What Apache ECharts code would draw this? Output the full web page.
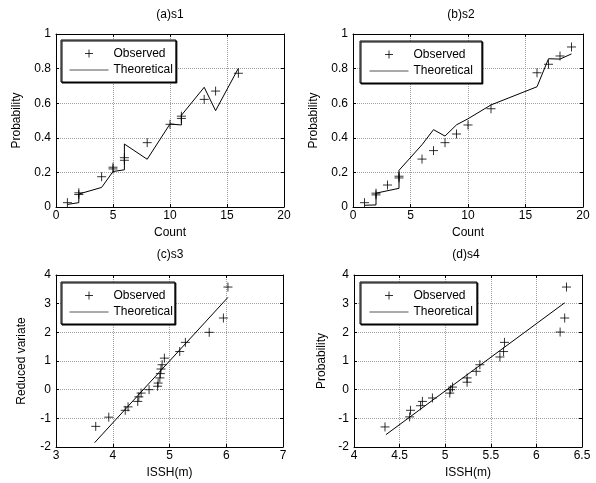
<!DOCTYPE html>
<html>
<head>
<meta charset="utf-8">
<script src="https://cdn.jsdelivr.net/npm/echarts@6/dist/echarts.min.js"></script>
<style>
  html, body { margin: 0; padding: 0; background: #fff; }
  #chart { width: 596px; height: 483px; }
</style>
</head>
<body>
<div id="chart"></div>
<script>
  // (a)s1 观测值与理论值
  const s1CountObs = [1, 2, 2, 4, 5, 5, 6, 6, 8, 10, 11, 11, 13, 14, 16]
  const s1ProbObs = [0.025, 0.072, 0.082, 0.175, 0.22, 0.23, 0.27, 0.285, 0.372, 0.478, 0.512, 0.525, 0.622, 0.67, 0.773]
  const s1CountFit = [1, 2, 2, 4, 5, 6, 6, 8, 10, 11, 11, 13, 14, 16]
  const s1ProbFit = [0.015, 0.025, 0.075, 0.113, 0.205, 0.215, 0.364, 0.276, 0.48, 0.474, 0.53, 0.692, 0.557, 0.802]

  // (b)s2
  const s2CountObs = [1, 2, 2, 3, 4, 4, 6, 7, 8, 9, 10, 12, 16, 17, 18, 19]
  const s2ProbObs = [0.025, 0.07, 0.08, 0.127, 0.168, 0.178, 0.277, 0.326, 0.372, 0.422, 0.474, 0.568, 0.776, 0.825, 0.873, 0.925]
  const s2CountFit = [1, 2, 2, 4, 4, 6, 7, 8, 9, 10, 12, 16, 17, 18, 19]
  const s2ProbFit = [0.01, 0.012, 0.08, 0.108, 0.212, 0.36, 0.447, 0.41, 0.475, 0.51, 0.59, 0.695, 0.857, 0.855, 0.885]

  // (c)s3
  const s3IsshObs = [3.70, 3.93, 4.22, 4.27, 4.44, 4.46, 4.50, 4.64, 4.79, 4.80, 4.83, 4.84, 4.85, 4.87, 4.91, 5.18, 5.28, 5.70, 5.95, 6.03]
  const s3VarObs = [-1.28, -0.96, -0.72, -0.60, -0.41, -0.25, -0.12, 0.0, 0.12, 0.23, 0.41, 0.56, 0.72, 0.87, 1.10, 1.33, 1.65, 2.0, 2.5, 3.58]
  const s3IsshFit = [3.68, 6.03]
  const s3VarFit = [-1.85, 3.22]

  // (d)s4
  const s4IsshObs = [4.34, 4.61, 4.62, 4.73, 4.75, 4.86, 5.05, 5.06, 5.08, 5.24, 5.24, 5.34, 5.38, 5.60, 5.64, 5.65, 6.26, 6.31, 6.33]
  const s4VarObs = [-1.30, -0.95, -0.72, -0.56, -0.41, -0.29, -0.12, 0.0, 0.09, 0.26, 0.41, 0.64, 0.87, 1.14, 1.33, 1.65, 2.01, 2.5, 3.58]
  const s4IsshFit = [4.35, 6.31]
  const s4VarFit = [-1.57, 3.03]

  // 子图标题和坐标轴名
  const panelTitles = ['(a)s1', '(b)s2', '(c)s3', '(d)s4']
  const xNames = ['Count', 'Count', 'ISSH(m)', 'ISSH(m)']
  const yNames = ['Probability', 'Probability', 'Reduced variate', 'Probability']
  // 坐标轴范围 [min, max, interval]
  const xRanges = [[0, 20, 5], [0, 20, 5], [3, 7, 1], [4, 6.5, 0.5]]
  const yRanges = [[0, 1, 0.2], [0, 1, 0.2], [-2, 4, 1], [-2, 4, 1]]

  const pairs = (xs, ys) => xs.map((x, i) => [x, ys[i]])
  const obsData = [
    pairs(s1CountObs, s1ProbObs), pairs(s2CountObs, s2ProbObs),
    pairs(s3IsshObs, s3VarObs), pairs(s4IsshObs, s4VarObs)
  ]
  const fitData = [
    pairs(s1CountFit, s1ProbFit), pairs(s2CountFit, s2ProbFit),
    pairs(s3IsshFit, s3VarFit), pairs(s4IsshFit, s4VarFit)
  ]

  const font = 'Liberation Sans, Arial, sans-serif'
  const grids = [
    { left: 56, top: 34, width: 228, height: 173 },
    { left: 353, top: 34, width: 230, height: 173 },
    { left: 56, top: 275, width: 227, height: 172 },
    { left: 354, top: 275, width: 228, height: 172 }
  ]
  const titlePos = [[170, 9], [461, 9], [170, 249], [466, 249]]
  const yNameGaps = [33, 33, 28, 26]
  const legendPos = [[61, 40], [360, 41], [61, 282], [360, 282]]
  const legendPad = [[7, 3, 6, 8], [7, 9, 6, 9], [7, 2, 6, 8], [7, 4, 6, 9]]

  const plusSymbol = 'path://M0,-5L0,5M-5,0L5,0'

  const xAxes = []
  const yAxes = []
  const series = []
  grids.forEach((g, i) => {
    const [xmin, xmax, xint] = xRanges[i]
    const [ymin, ymax, yint] = yRanges[i]
    // 下方 x 轴
    xAxes.push({
      type: 'value', gridIndex: i, min: xmin, max: xmax, interval: xint,
      name: xNames[i], nameLocation: 'middle', nameGap: 20,
      nameTextStyle: { color: '#000', fontSize: 12, fontFamily: font },
      axisLine: { show: true, onZero: false, lineStyle: { color: '#000', width: 1 } },
      axisTick: { show: true, inside: true, length: 3, lineStyle: { color: '#000' } },
      axisLabel: { color: '#000', fontSize: 12, fontFamily: font, margin: 3 },
      splitLine: { show: true, lineStyle: { color: '#a0a0a0', type: 'dotted', width: 1 } }
    })
    // 上方 x 轴，只画刻度
    xAxes.push({
      type: 'value', gridIndex: i, min: xmin, max: xmax, interval: xint, position: 'top',
      axisLine: { show: true, onZero: false, lineStyle: { color: '#000', width: 1 } },
      axisTick: { show: true, inside: true, length: 3, lineStyle: { color: '#000' } },
      axisLabel: { show: false },
      splitLine: { show: false }
    })
    // 左侧 y 轴
    yAxes.push({
      type: 'value', gridIndex: i, min: ymin, max: ymax, interval: yint,
      name: yNames[i], nameLocation: 'middle', nameGap: yNameGaps[i],
      nameTextStyle: { color: '#000', fontSize: 12, fontFamily: font },
      axisLine: { show: true, onZero: false, lineStyle: { color: '#000', width: 1 } },
      axisTick: { show: true, inside: true, length: 3, lineStyle: { color: '#000' } },
      axisLabel: { color: '#000', fontSize: 12, fontFamily: font, margin: 5 },
      splitLine: { show: true, lineStyle: { color: '#a0a0a0', type: 'dotted', width: 1 } }
    })
    // 右侧 y 轴
    yAxes.push({
      type: 'value', gridIndex: i, min: ymin, max: ymax, interval: yint, position: 'right',
      axisLine: { show: true, onZero: false, lineStyle: { color: '#000', width: 1 } },
      axisTick: { show: true, inside: true, length: 3, lineStyle: { color: '#000' } },
      axisLabel: { show: false },
      splitLine: { show: false }
    })
    series.push({
      name: 'Observed',
      type: 'scatter',
      xAxisIndex: 2 * i,
      yAxisIndex: 2 * i,
      symbol: plusSymbol,
      symbolSize: 9,
      symbolKeepAspect: true,
      itemStyle: { color: 'none', borderColor: '#000', borderWidth: 1 },
      emphasis: { disabled: true },
      data: obsData[i]
    })
    series.push({
      name: 'Theoretical',
      type: 'line',
      xAxisIndex: 2 * i,
      yAxisIndex: 2 * i,
      symbol: 'none',
      lineStyle: { color: '#000', width: 1 },
      itemStyle: { color: '#000' },
      emphasis: { disabled: true },
      data: fitData[i]
    })
  })

  const chartInstance = echarts.init(document.getElementById('chart'))
  const option = {
    backgroundColor: '#fff',
    animation: false,
    title: panelTitles.map((t, i) => ({
      text: t,
      left: titlePos[i][0],
      top: titlePos[i][1],
      textAlign: 'center',
      padding: 0,
      textStyle: { color: '#000', fontSize: 12, fontWeight: 'normal', fontFamily: font }
    })),
    // 每个子图一个图例框
    legend: legendPos.map((p, i) => ({
      left: p[0],
      top: p[1],
      orient: 'vertical',
      padding: legendPad[i],
      itemGap: 4,
      itemWidth: 39,
      itemHeight: 8,
      backgroundColor: '#fff',
      borderColor: '#000',
      borderWidth: 1,
      shadowColor: '#000',
      shadowOffsetX: 1,
      shadowOffsetY: 1,
      shadowBlur: 0,
      selectedMode: false,
      textStyle: { color: '#000', fontSize: 12, fontFamily: font },
      data: [
        { name: 'Observed', itemStyle: { color: 'none', borderColor: '#000', borderWidth: 1 } },
        // 理论线图例只保留线段，不画圆点
        { name: 'Theoretical', itemStyle: { opacity: 0 }, lineStyle: { color: '#555', width: 1 } }
      ]
    })),
    grid: grids,
    xAxis: xAxes,
    yAxis: yAxes,
    series: series
  }
  chartInstance.setOption(option)
</script>
</body>
</html>
